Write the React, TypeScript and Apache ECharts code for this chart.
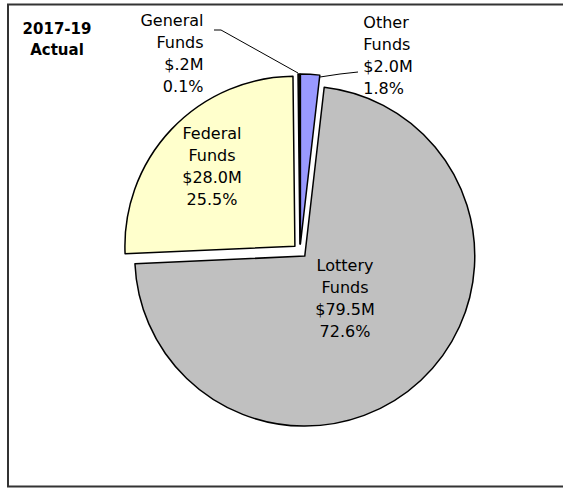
import React, { useEffect, useRef } from "react";
import * as echarts from "echarts";

const categories = ["Other Funds", "Lottery Funds", "Federal Funds", "General Funds"];
const amounts = [2.0, 79.5, 28.0, 0.2];
const percents = [1.8, 72.6, 25.5, 0.1];
const colors = ["#9999FF", "#C0C0C0", "#FFFFCC", "#111111"];
const titleLines = ["2017-19", "Actual"];

const FONT = "DejaVu Sans";
const OFFSET = 7;

const fmtMoney = (v: number) => {
  const s = v.toFixed(1);
  return "$" + (v < 1 ? s.slice(1) : s) + "M";
};

// label center positions and label-line points, by data index (page coords)
const labelPos: Array<[number, number]> = [
  [388, 55],
  [345, 298],
  [212, 166],
  [172, 53],
];
const linePts: Array<Array<[number, number]> | null> = [
  [[320, 77], [340, 74], [358, 72]],
  null,
  null,
  [[298, 73], [221, 30], [214, 30]],
];

// translation that the "selected" state applies to each slice (and its label)
const total = amounts.reduce((a, b) => a + b, 0);
const sliceShift: Array<[number, number]> = (() => {
  let acc = 0;
  return amounts.map((v) => {
    const mid = ((acc + v / 2) / total) * Math.PI * 2;
    acc += v;
    return [Math.sin(mid) * OFFSET, -Math.cos(mid) * OFFSET] as [number, number];
  });
})();

export default function App() {
  const ref = useRef<HTMLDivElement>(null);
  useEffect(() => {
    if (!ref.current) return;
    const chart = echarts.init(ref.current, undefined, { renderer: "svg" });
    const data = categories.map((name, i) => {
      const outside = i === 0 || i === 3;
      return {
        name,
        value: amounts[i],
        selected: true,
        itemStyle: { color: colors[i] },
        label: { position: outside ? "outside" : "inside" },
        labelLine: { show: outside },
      };
    });
    chart.setOption({
      animation: false,
      graphic: [
        {
          type: "rect",
          shape: { x: 8, y: 4.5, width: 620, height: 482 },
          style: { fill: "none", stroke: "#333", lineWidth: 2 },
          z: 10,
        },
        {
          type: "text",
          x: 57,
          y: 18,
          style: {
            text: titleLines.join("\n"),
            align: "center",
            verticalAlign: "top",
            font: `bold 15px '${FONT}'`,
            lineHeight: 21,
            fill: "#000",
          },
        },
      ],
      series: [
        {
          type: "pie",
          center: [300, 251],
          radius: 170,
          startAngle: 90,
          clockwise: true,
          selectedMode: "multiple",
          selectedOffset: OFFSET,
          avoidLabelOverlap: false,
          emphasis: { disabled: true },
          itemStyle: { borderColor: "#000", borderWidth: 1.5 },
          label: {
            color: "#000",
            fontFamily: FONT,
            fontSize: 16,
            lineHeight: 22,
            align: "center",
            formatter: (p: any) => {
              const i = p.dataIndex;
              return `${categories[i].replace(" ", "\n")}\n${fmtMoney(amounts[i])}\n${percents[i].toFixed(1)}%`;
            },
          },
          labelLine: { lineStyle: { color: "#000", width: 1 } },
          labelLayout: (params: any) => {
            const i = params.dataIndex;
            const r = params.labelRect;
            const [sx, sy] = sliceShift[i];
            const out: any = {
              dx: labelPos[i][0] - sx - (r.x + r.width / 2),
              dy: labelPos[i][1] - sy - (r.y + r.height / 2),
            };
            const pts = linePts[i];
            if (pts) out.labelLinePoints = pts.map(([x, y]) => [x - sx, y - sy]);
            return out;
          },
          data,
        },
      ],
    });
    return () => chart.dispose();
  }, []);
  return (
    <div
      ref={ref}
      style={{ position: "fixed", left: 0, top: 0, width: 563, height: 488, background: "#fff" }}
    />
  );
}
